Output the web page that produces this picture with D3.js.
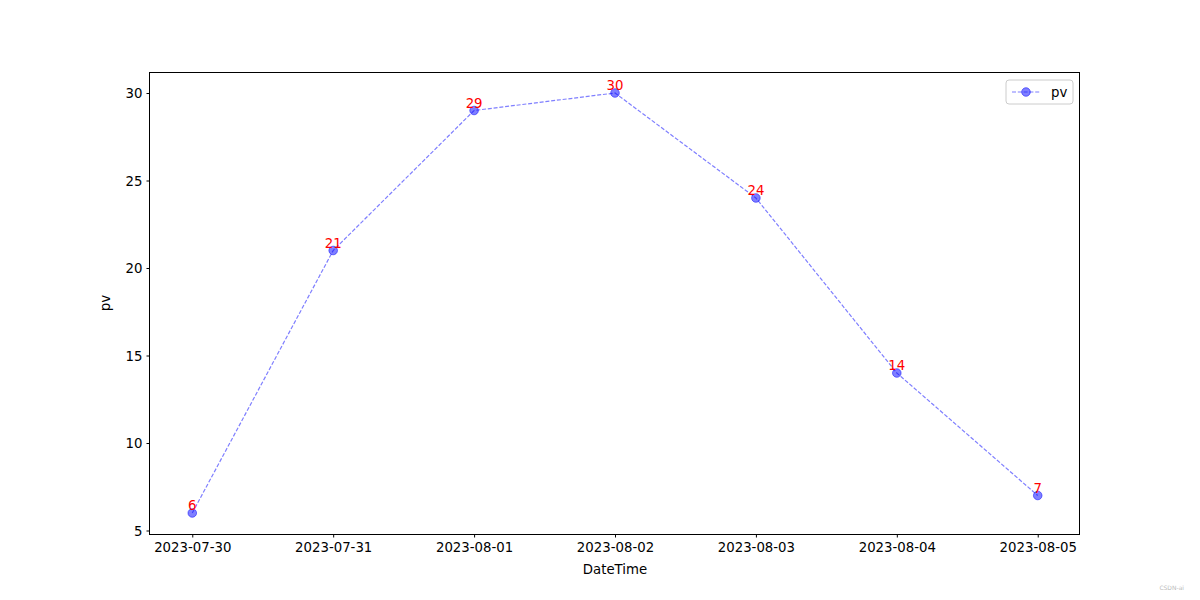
<!DOCTYPE html>
<html>
<head>
<meta charset="utf-8">
<script src="https://cdn.jsdelivr.net/npm/d3@7"></script>
<style>
  body { margin: 0; background: #fff; }
  svg { font-family: "DejaVu Sans", sans-serif; display: block; }
</style>
</head>
<body>
<div id="chart"></div>
<script>
// data
const dates = ["2023-07-30", "2023-07-31", "2023-08-01", "2023-08-02", "2023-08-03", "2023-08-04", "2023-08-05"];
const pv = [6, 21, 29, 30, 24, 14, 7];
const yTicks = [5, 10, 15, 20, 25, 30];

const width = 1200, height = 600;
const margin = { top: 72, right: 120, bottom: 66, left: 150 };
const innerWidth = width - margin.left - margin.right;
const innerHeight = height - margin.top - margin.bottom;

const parse = d3.timeParse("%Y-%m-%d");
const data = dates.map((d, i) => ({ date: parse(d), label: d, value: pv[i] }));

const svg = d3.select("#chart").append("svg")
    .attr("width", width)
    .attr("height", height);

const g = svg.append("g")
    .attr("transform", `translate(${margin.left},${margin.top})`);

// scales with matplotlib-like 5% padding
const xExt = d3.extent(data, d => d.date);
const xPad = (xExt[1] - xExt[0]) * 0.05;
const x = d3.scaleTime()
    .domain([new Date(+xExt[0] - xPad), new Date(+xExt[1] + xPad)])
    .range([0, innerWidth]);

const yExt = d3.extent(pv);
const yPad = (yExt[1] - yExt[0]) * 0.05;
const y = d3.scaleLinear()
    .domain([yExt[0] - yPad, yExt[1] + yPad])
    .range([innerHeight, 0]);

// axes
const xAxis = g.append("g")
    .attr("transform", `translate(0,${innerHeight})`)
    .call(d3.axisBottom(x)
        .tickValues(data.map(d => d.date))
        .tickFormat((d, i) => dates[i])
        .tickSize(3.5)
        .tickPadding(4));

const yAxis = g.append("g")
    .call(d3.axisLeft(y)
        .tickValues(yTicks)
        .tickSize(3.5)
        .tickPadding(4));

[xAxis, yAxis].forEach(a => {
    a.attr("font-size", 13.3).attr("font-family", "DejaVu Sans, sans-serif");
    a.select(".domain").remove();
    a.selectAll("line").attr("stroke", "#000").attr("stroke-width", 1);
    a.selectAll("text").attr("fill", "#000").attr("dy", null);
});
// baseline offsets instead of em-based dy
xAxis.selectAll("text").attr("y", 18);
yAxis.selectAll("text").attr("y", 4.5);

// frame
g.append("rect")
    .attr("x", -0.5)
    .attr("y", 0.5)
    .attr("width", innerWidth)
    .attr("height", innerHeight)
    .attr("fill", "none")
    .attr("stroke", "#000")
    .attr("stroke-width", 1);

// axis labels
g.append("text")
    .attr("x", innerWidth / 2)
    .attr("y", innerHeight + 40)
    .attr("text-anchor", "middle")
    .attr("font-size", "13.3px")
    .text("DateTime");

g.append("text")
    .attr("transform", "rotate(-90)")
    .attr("x", -innerHeight / 2)
    .attr("y", -40)
    .attr("text-anchor", "middle")
    .attr("font-size", "13.3px")
    .text("pv");

// line
const line = d3.line()
    .x(d => x(d.date))
    .y(d => y(d.value));

g.append("path")
    .datum(data)
    .attr("fill", "none")
    .attr("stroke", "#7f7fff")
    .attr("stroke-width", 1.2)
    .attr("stroke-dasharray", "4,1.8")
    .attr("d", line);

// markers
g.selectAll("circle.pt")
    .data(data)
    .enter()
    .append("circle")
    .attr("class", "pt")
    .attr("cx", d => x(d.date))
    .attr("cy", d => y(d.value))
    .attr("r", 4.3)
    .attr("fill", "blue")
    .attr("fill-opacity", 0.5)
    .attr("stroke", "blue")
    .attr("stroke-opacity", 0.5)
    .attr("stroke-width", 1);

// value labels
g.selectAll("text.val")
    .data(data)
    .enter()
    .append("text")
    .attr("class", "val")
    .attr("x", d => x(d.date))
    .attr("y", d => y(d.value) - 3)
    .attr("text-anchor", "middle")
    .attr("fill", "red")
    .attr("font-size", "13.3px")
    .text(d => d.value);

// legend
const lg = g.append("g")
    .attr("transform", `translate(${innerWidth - 74},8)`);

lg.append("rect")
    .attr("width", 67)
    .attr("height", 24)
    .attr("rx", 3)
    .attr("fill", "#fff")
    .attr("fill-opacity", 0.8)
    .attr("stroke", "#ccc")
    .attr("stroke-width", 1);

lg.append("line")
    .attr("x1", 6).attr("x2", 34)
    .attr("y1", 12).attr("y2", 12)
    .attr("stroke", "#7f7fff")
    .attr("stroke-width", 1.2)
    .attr("stroke-dasharray", "4,1.8");

lg.append("circle")
    .attr("cx", 20).attr("cy", 12)
    .attr("r", 4.3)
    .attr("fill", "blue")
    .attr("fill-opacity", 0.5)
    .attr("stroke", "blue")
    .attr("stroke-opacity", 0.5);

lg.append("text")
    .attr("x", 45)
    .attr("y", 16.5)
    .attr("font-size", "13.3px")
    .text("pv");

// watermark
svg.append("text")
    .attr("x", 1184)
    .attr("y", 590)
    .attr("text-anchor", "end")
    .attr("fill", "#bbb")
    .attr("font-size", "6px")
    .text("CSDN-ai");
</script>
</body>
</html>
